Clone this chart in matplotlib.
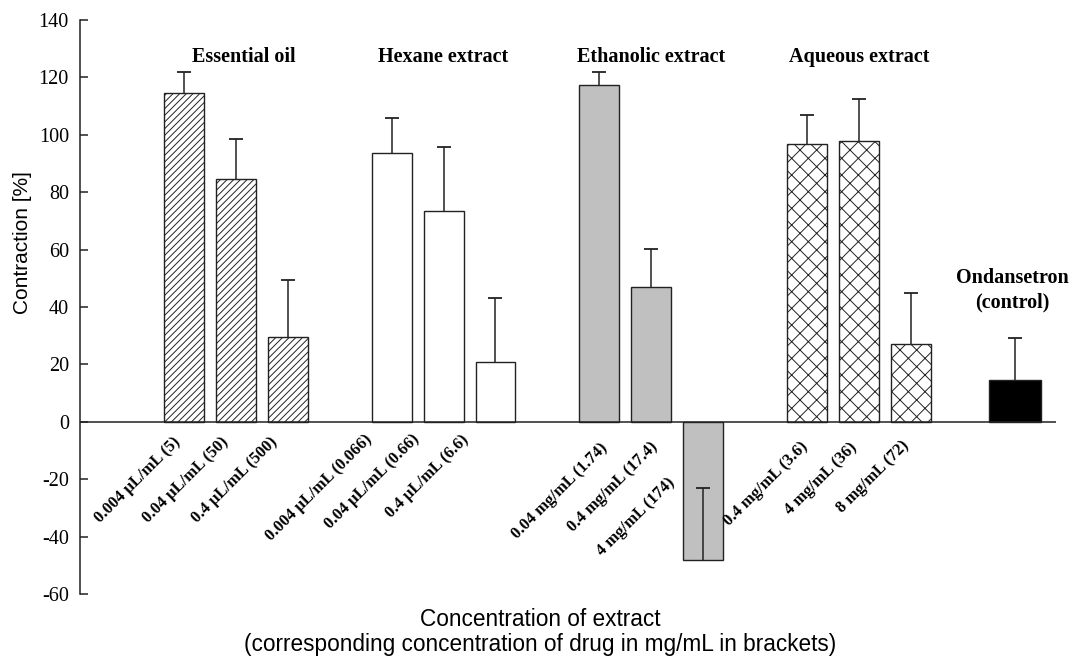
import matplotlib
matplotlib.use("Agg")
import matplotlib.pyplot as plt
import numpy as np

# contraction (%) with SD, one bar per concentration
groups = ["Essential oil", "Hexane extract", "Ethanolic extract", "Aqueous extract"]
conc_labels = [
    ["0.004 µL/mL (5)", "0.04 µL/mL (50)", "0.4 µL/mL (500)"],
    ["0.004 µL/mL (0.066)", "0.04 µL/mL (0.66)", "0.4 µL/mL (6.6)"],
    ["0.04 mg/mL (1.74)", "0.4 mg/mL (17.4)", "4 mg/mL (174)"],
    ["0.4 mg/mL (3.6)", "4 mg/mL (36)", "8 mg/mL (72)"],
]
means = [
    [114.5, 84.7, 29.6],
    [93.6, 73.5, 20.7],
    [117.2, 47.1, -48.3],
    [96.9, 97.9, 27.1],
]
sds = [
    [7.2, 13.8, 19.8],
    [12.2, 22.3, 22.4],
    [4.5, 13.2, 25.2],
    [10.0, 14.4, 17.7],
]
control_label = "Ondansetron\n(control)"
control_mean = 14.6
control_sd = 14.7

# per-group bar look
hatches = ["/////", None, None, "xx"]
faces = ["white", "white", "#c0c0c0", "white"]

# small nudges (points) for the rotated concentration labels
label_nudge = [
    [(-8, -9), (-11, -9), (-13, -9)],
    [(-20, -7), (-23, -7), (-25, -7)],
    [(0, -13), (-1, -12), (-26, -38)],
    [(-5, -12), (-7, -13), (-7, -11)],
]

EDGE = "#222222"
SERIF = ["Liberation Serif", "DejaVu Serif"]
SANS = ["Liberation Sans", "DejaVu Sans"]

plt.rcParams["hatch.linewidth"] = 0.7
plt.rcParams["hatch.color"] = EDGE
plt.rcParams["axes.unicode_minus"] = False


def upper_errorbar(ax, x, y, err):
    # one-sided SD bars: only the cap away from the bar end is drawn
    _, caps, _ = ax.errorbar(x, y, yerr=[np.zeros(len(err)), err], fmt="none",
                             ecolor=EDGE, elinewidth=1.1, capsize=5,
                             capthick=1.3, zorder=3)
    caps[0].set_visible(False)


fig = plt.figure(figsize=(10.73, 6.57), dpi=100)
ax = fig.add_axes([0.0746, 0.0959, 0.9094, 0.8737])

for g in range(len(groups)):
    pos = np.arange(3) + 4 * g
    ax.bar(pos, means[g], width=0.77, color=faces[g], edgecolor=EDGE,
           linewidth=1.0, hatch=hatches[g], zorder=2)
    upper_errorbar(ax, pos, means[g], sds[g])
    ax.text(pos[1] + (0.15 if g == 0 else 0), 127, groups[g], ha="center",
            va="center", family=SERIF, fontweight="bold", fontsize=14.5)
    for i in range(3):
        dx, dy = label_nudge[g][i]
        ax.annotate(conc_labels[g][i], xy=(pos[i], 0), xytext=(dx, dy),
                    textcoords="offset points", rotation=45,
                    rotation_mode="anchor", ha="right", va="top",
                    family=SERIF, fontweight="bold", fontsize=12)

ctrl_x = 16
ax.bar([ctrl_x], [control_mean], width=1.0, color="black", edgecolor=EDGE,
       linewidth=1.0, zorder=2)
upper_errorbar(ax, [ctrl_x], [control_mean], [control_sd])
ax.text(ctrl_x - 0.05, 46, control_label, ha="center", va="center",
        family=SERIF, fontweight="bold", fontsize=14.5, linespacing=1.3)

ax.axhline(0, color=EDGE, linewidth=1.1, zorder=4)

ax.set_xlim(-2, 16.79)
ax.set_ylim(-60, 140)
ax.set_yticks(np.arange(-60, 141, 20))
ax.set_xticks([])
for s in ["top", "right", "bottom"]:
    ax.spines[s].set_visible(False)
ax.spines["left"].set_color(EDGE)
ax.spines["left"].set_linewidth(1.1)
ax.tick_params(axis="y", direction="in", length=6, width=1.1, color=EDGE,
               pad=8, labelsize=14.5)
for lab in ax.get_yticklabels():
    lab.set_family(SERIF)

fig.text(23 / 1073, 1 - 243 / 657, "Contraction [%]", rotation=90,
         ha="center", va="center", family=SANS, fontsize=15)
fig.text(540 / 1073, 1 - 620 / 657, "Concentration of extract", ha="center",
         va="center", family=SANS, fontsize=16.3)
fig.text(540 / 1073, 1 - 645 / 657,
         "(corresponding concentration of drug in mg/mL in brackets)",
         ha="center", va="center", family=SANS, fontsize=16.3)

fig.savefig("out.png", dpi=100, facecolor="white")
